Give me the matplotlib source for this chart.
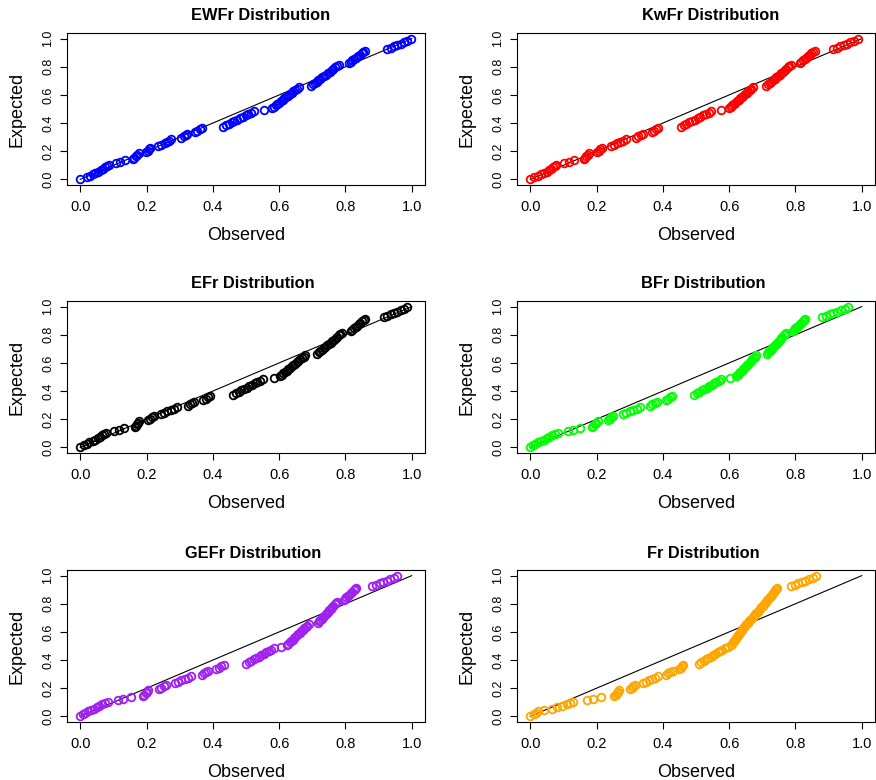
import numpy as np
import matplotlib
matplotlib.use("Agg")
import matplotlib.pyplot as plt

plt.rcParams["font.family"] = ["Liberation Sans", "DejaVu Sans"]

# plotting positions shared by every panel
expected = [
    0.005, 0.015, 0.025, 0.035, 0.045, 0.055, 0.065, 0.075, 0.085, 0.095,
    0.105, 0.115, 0.125, 0.135, 0.145, 0.155, 0.165, 0.175, 0.185, 0.195,
    0.205, 0.215, 0.225, 0.235, 0.245, 0.255, 0.265, 0.275, 0.285, 0.295,
    0.305, 0.315, 0.325, 0.335, 0.345, 0.355, 0.365, 0.375, 0.385, 0.395,
    0.405, 0.415, 0.425, 0.435, 0.445, 0.455, 0.465, 0.475, 0.485, 0.495,
    0.505, 0.515, 0.525, 0.535, 0.545, 0.555, 0.565, 0.575, 0.585, 0.595,
    0.605, 0.615, 0.625, 0.635, 0.645, 0.655, 0.665, 0.675, 0.685, 0.695,
    0.705, 0.715, 0.725, 0.735, 0.745, 0.755, 0.765, 0.775, 0.785, 0.795,
    0.805, 0.815, 0.825, 0.835, 0.845, 0.855, 0.865, 0.875, 0.885, 0.895,
    0.905, 0.915, 0.925, 0.935, 0.945, 0.955, 0.965, 0.975, 0.985, 0.995,
]

obs_ewfr = [
    0.000, 0.020, 0.030, 0.037, 0.045, 0.055, 0.062, 0.068, 0.075, 0.082, 0.088,
    0.108, 0.121, 0.136,
    0.160, 0.163, 0.168, 0.172, 0.177,
    0.197, 0.203, 0.207, 0.211,
    0.234, 0.245, 0.255, 0.262, 0.268, 0.275,
    0.305, 0.312, 0.318, 0.322,
    0.345, 0.352, 0.360, 0.366,
    0.431, 0.440, 0.449, 0.457, 0.465, 0.474, 0.482, 0.490, 0.499, 0.507, 0.515, 0.524,
    0.555,
    0.578, 0.584, 0.589, 0.595, 0.600, 0.606, 0.611, 0.616, 0.621, 0.627, 0.632, 0.638,
    0.643, 0.648, 0.654, 0.659,
    0.696, 0.702, 0.707, 0.713, 0.718, 0.724, 0.730, 0.735, 0.741, 0.746, 0.752, 0.758,
    0.763, 0.769, 0.774, 0.780,
    0.810, 0.816, 0.821, 0.827, 0.832, 0.838, 0.843, 0.849, 0.854, 0.860,
    0.926, 0.936, 0.946, 0.956, 0.967, 0.977, 0.987, 0.997,
]

obs_kwfr = [
    0.000, 0.012, 0.022, 0.032, 0.042, 0.050, 0.057, 0.063, 0.069, 0.074, 0.078,
    0.103, 0.118, 0.133,
    0.163, 0.166, 0.169, 0.173, 0.176,
    0.200, 0.206, 0.211, 0.217,
    0.244, 0.253, 0.262, 0.272, 0.281, 0.290,
    0.319, 0.326, 0.333, 0.339,
    0.367, 0.373, 0.379, 0.385,
    0.455, 0.463, 0.471, 0.480, 0.488, 0.496, 0.505, 0.513, 0.521, 0.529, 0.538, 0.546,
    0.576,
    0.600, 0.605, 0.610, 0.614, 0.619, 0.624, 0.629, 0.634, 0.638, 0.643, 0.648, 0.653,
    0.658, 0.662, 0.667, 0.672,
    0.712, 0.717, 0.722, 0.727, 0.732, 0.737, 0.742, 0.747, 0.752, 0.757, 0.762, 0.767,
    0.772, 0.777, 0.782, 0.787,
    0.813, 0.818, 0.823, 0.828, 0.833, 0.838, 0.843, 0.848, 0.853, 0.858,
    0.913, 0.924, 0.935, 0.945, 0.956, 0.966, 0.977, 0.988,
]

obs_efr = [
    0.000, 0.012, 0.020, 0.027, 0.037, 0.045, 0.053, 0.060, 0.066, 0.072, 0.078,
    0.103, 0.116, 0.133,
    0.164, 0.167, 0.170, 0.174, 0.177,
    0.204, 0.210, 0.215, 0.221,
    0.244, 0.254, 0.263, 0.273, 0.282, 0.292,
    0.325, 0.331, 0.337, 0.342,
    0.371, 0.378, 0.385, 0.391,
    0.462, 0.470, 0.478, 0.486, 0.494, 0.502, 0.510, 0.518, 0.526, 0.534, 0.542, 0.550,
    0.583,
    0.603, 0.608, 0.613, 0.618, 0.623, 0.628, 0.633, 0.638, 0.643, 0.648, 0.653, 0.658,
    0.664, 0.669, 0.674, 0.679,
    0.714, 0.719, 0.724, 0.729, 0.734, 0.739, 0.744, 0.749, 0.755, 0.760, 0.765, 0.770,
    0.775, 0.780, 0.785, 0.790,
    0.816, 0.821, 0.826, 0.831, 0.836, 0.840, 0.845, 0.850, 0.855, 0.860,
    0.916, 0.926, 0.936, 0.946, 0.957, 0.967, 0.977, 0.987,
]

obs_bfr = [
    0.000, 0.007, 0.015, 0.024, 0.032, 0.042, 0.050, 0.058, 0.067, 0.075, 0.083,
    0.113, 0.128, 0.150,
    0.186, 0.190, 0.194, 0.199, 0.203,
    0.234, 0.240, 0.245, 0.251,
    0.279, 0.289, 0.300, 0.310, 0.321, 0.331,
    0.360, 0.367, 0.375, 0.382,
    0.408, 0.415, 0.421, 0.428,
    0.495, 0.502, 0.510, 0.517, 0.524, 0.532, 0.539, 0.547, 0.554, 0.561, 0.569, 0.576,
    0.603,
    0.622, 0.626, 0.630, 0.634, 0.638, 0.642, 0.646, 0.650, 0.654, 0.658, 0.662, 0.666,
    0.670, 0.674, 0.678, 0.682,
    0.714, 0.718, 0.722, 0.726, 0.730, 0.733, 0.737, 0.741, 0.745, 0.749, 0.753, 0.757,
    0.760, 0.764, 0.768, 0.772,
    0.792, 0.796, 0.800, 0.805, 0.809, 0.813, 0.817, 0.822, 0.826, 0.830,
    0.881, 0.892, 0.903, 0.914, 0.925, 0.937, 0.948, 0.959,
]

obs_gefr = [
    0.000, 0.007, 0.015, 0.024, 0.032, 0.042, 0.050, 0.058, 0.067, 0.075, 0.083,
    0.113, 0.128, 0.152,
    0.189, 0.193, 0.197, 0.200, 0.204,
    0.239, 0.245, 0.252, 0.258,
    0.285, 0.295, 0.305, 0.315, 0.325, 0.335,
    0.366, 0.373, 0.380, 0.386,
    0.411, 0.418, 0.426, 0.433,
    0.500, 0.508, 0.515, 0.523, 0.530, 0.538, 0.545, 0.553, 0.560, 0.568, 0.575, 0.583,
    0.605,
    0.623, 0.627, 0.632, 0.636, 0.641, 0.645, 0.649, 0.654, 0.658, 0.663, 0.667, 0.671,
    0.676, 0.680, 0.685, 0.689,
    0.716, 0.720, 0.724, 0.728, 0.732, 0.736, 0.740, 0.744, 0.747, 0.751, 0.755, 0.759,
    0.763, 0.767, 0.771, 0.775,
    0.795, 0.799, 0.803, 0.808, 0.812, 0.816, 0.820, 0.825, 0.829, 0.833,
    0.881, 0.892, 0.903, 0.913, 0.924, 0.935, 0.945, 0.956,
]

obs_fr = [
    0.000, 0.012, 0.017, 0.022, 0.042, 0.067, 0.082, 0.097, 0.112, 0.120, 0.128,
    0.170, 0.190, 0.213,
    0.254, 0.258, 0.262, 0.266, 0.269,
    0.300, 0.306, 0.311, 0.317,
    0.339, 0.348, 0.358, 0.367, 0.376, 0.385,
    0.410, 0.417, 0.423, 0.430,
    0.450, 0.454, 0.458, 0.462,
    0.509, 0.516, 0.523, 0.530, 0.537, 0.544, 0.551, 0.558, 0.565, 0.572, 0.579, 0.586,
    0.598,
    0.605, 0.608, 0.611, 0.614, 0.617, 0.620, 0.624, 0.627, 0.630, 0.633, 0.636, 0.639,
    0.642, 0.646, 0.649, 0.652,
    0.656, 0.660, 0.663, 0.667, 0.671, 0.675, 0.678, 0.682, 0.686, 0.690, 0.693, 0.697,
    0.701, 0.705, 0.708, 0.712,
    0.715, 0.718, 0.722, 0.725, 0.728, 0.731, 0.735, 0.738, 0.741, 0.745,
    0.787, 0.798, 0.808, 0.819, 0.830, 0.841, 0.852, 0.863,
]

titles = ["EWFr Distribution", "KwFr Distribution", "EFr Distribution",
          "BFr Distribution", "GEFr Distribution", "Fr Distribution"]
observed = [obs_ewfr, obs_kwfr, obs_efr, obs_bfr, obs_gefr, obs_fr]
colors = ["#0000FF", "#FF0000", "#000000", "#00FF00", "#A020F0", "#FFA500"]

ticks = [0.0, 0.2, 0.4, 0.6, 0.8, 1.0]
tick_labels = ["0.0", "0.2", "0.4", "0.6", "0.8", "1.0"]

fig = plt.figure(figsize=(8.76, 7.8), dpi=100)

col_left = [67 / 876, 517 / 876]
row_bottom = [(780 - 185) / 780, (780 - 453) / 780, (780 - 722) / 780]
title_x = [0.54, 0.52, 0.52]
ax_w = 358 / 876
ax_h = 152 / 780

for k, (title, obs, col) in enumerate(zip(titles, observed, colors)):
    r, c = divmod(k, 2)
    ax = fig.add_axes([col_left[c], row_bottom[r], ax_w, ax_h])
    ax.plot([0, 1], [0, 1], color="black", linewidth=0.8)
    ax.plot(obs, expected, linestyle="none", marker="o", markersize=5.5,
            markerfacecolor="none", markeredgecolor=col, markeredgewidth=1.3)
    ax.set_xlim(-0.04, 1.04)
    ax.set_ylim(-0.04, 1.04)
    ax.set_xticks(ticks)
    ax.set_xticklabels(tick_labels, fontsize=10.5)
    ax.set_yticks(ticks)
    ax.set_yticklabels(tick_labels, fontsize=9, rotation=90, va="center")
    ax.tick_params(direction="out", length=5, width=0.8, color="black")
    ax.tick_params(axis="x", pad=6)
    ax.tick_params(axis="y", pad=4)
    for sp in ax.spines.values():
        sp.set_linewidth(0.8)
        sp.set_color("black")
    ax.set_title(title, fontsize=11.8, fontweight="bold", pad=9, x=title_x[r])
    ax.set_xlabel("Observed", fontsize=13, labelpad=9)
    ax.set_ylabel("Expected", fontsize=13, labelpad=12)

fig.savefig("out.png", dpi=100)
